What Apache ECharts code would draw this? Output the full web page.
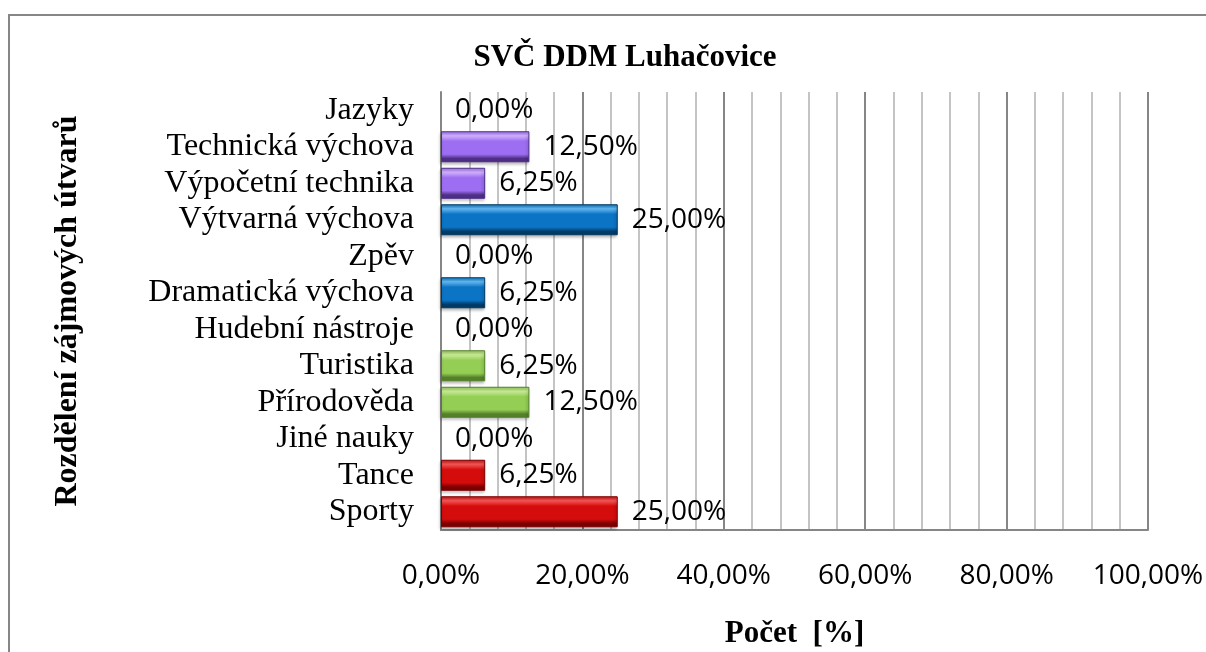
<!DOCTYPE html>
<html>
<head>
<meta charset="utf-8">
<script src="https://cdn.jsdelivr.net/npm/echarts@6/dist/echarts.min.js"></script>
<style>
    html, body { margin: 0; padding: 0; background: #fff; }
    #chart { width: 1206px; height: 652px; }
</style>
</head>
<body>
<div id="chart"></div>
<script>
// kategorie odspodu nahoru
var categories = ['Sporty', 'Tance', 'Jiné nauky', 'Přírodověda', 'Turistika', 'Hudební nástroje',
    'Dramatická výchova', 'Zpěv', 'Výtvarná výchova', 'Výpočetní technika', 'Technická výchova', 'Jazyky'];
var values = [25, 6.25, 0, 12.5, 6.25, 0, 6.25, 0, 25, 6.25, 12.5, 0];
var xTicks = [0, 20, 40, 60, 80, 100];

// barvy skupin (po trojicích): cervena, zelena, modra, fialova
var palettes = [
    { dark: '#7a0000', mid: '#d40c0c', light: '#f65858' },
    { dark: '#55802a', mid: '#94ce54', light: '#cbee9a' },
    { dark: '#003a66', mid: '#0c74c4', light: '#64baf4' },
    { dark: '#4e2e86', mid: '#9e6ef2', light: '#d4b4ff' }
];

function bevel(p) {
    return {
        type: 'linear', x: 0, y: 0, x2: 0, y2: 1,
        colorStops: [
            { offset: 0, color: p.mid },
            { offset: 0.14, color: p.light },
            { offset: 0.32, color: p.mid },
            { offset: 0.74, color: p.mid },
            { offset: 0.88, color: p.dark },
            { offset: 1, color: p.dark }
        ]
    };
}

function fmt(v) {
    return v.toFixed(2).replace('.', ',') + '%';
}

var barData = [];
for (var i = 0; i < values.length; i++) {
    var p = palettes[Math.floor(i / 3)];
    barData.push({
        value: values[i],
        itemStyle: {
            color: bevel(p),
            borderColor: p.dark,
            borderWidth: values[i] > 0 ? 1 : 0,
            opacity: values[i] > 0 ? 1 : 0
        }
    });
}

var myChart = echarts.init(document.getElementById('chart'));

var option = {
    animation: false,
    title: {
        text: 'SVČ DDM Luhačovice',
        left: 620,
        textAlign: 'center',
        top: 37,
        textStyle: {
            fontFamily: 'Liberation Serif',
            fontWeight: 'bold',
            fontSize: 31,
            color: '#000'
        }
    },
    graphic: [{
        type: 'rect',
        shape: { x: 9, y: 15, width: 1400, height: 900 },
        style: { fill: 'none', stroke: '#868686', lineWidth: 2 },
        silent: true
    }],
    grid: {
        left: 441,
        right: 58,
        top: 92,
        bottom: 122,
        outerBoundsMode: 'none'
    },
    xAxis: {
        type: 'value',
        min: 0,
        max: 100,
        interval: 20,
        name: 'Počet  [%]',
        nameLocation: 'middle',
        nameGap: 88,
        nameTextStyle: {
            fontFamily: 'Liberation Serif',
            fontWeight: 'bold',
            fontSize: 31,
            color: '#000'
        },
        axisLine: { show: true, lineStyle: { color: '#868686', width: 2 } },
        axisTick: { show: false },
        axisLabel: {
            margin: 32,
            fontFamily: 'Open Sans',
            fontSize: 28,
            color: '#000',
            formatter: function (v) { return xTicks.indexOf(v) >= 0 ? fmt(v) : ''; }
        },
        splitLine: { show: true, lineStyle: { color: '#868686', width: 2 } },
        minorTick: { show: false, splitNumber: 5 },
        minorSplitLine: { show: true, lineStyle: { color: '#c4c4c4', width: 2 } }
    },
    yAxis: {
        type: 'category',
        data: categories,
        name: 'Rozdělení zájmových útvarů',
        nameLocation: 'middle',
        nameGap: 357,
        nameRotate: 90,
        nameTextStyle: {
            fontFamily: 'Liberation Serif',
            fontWeight: 'bold',
            fontSize: 32,
            color: '#000'
        },
        axisLine: { show: true, lineStyle: { color: '#868686', width: 2 } },
        axisTick: { show: false },
        axisLabel: {
            interval: 0,
            margin: 27,
            fontFamily: 'Liberation Serif',
            fontSize: 32,
            color: '#000'
        }
    },
    series: [{
        type: 'bar',
        data: barData,
        barWidth: 31,
        itemStyle: {
            shadowColor: 'rgba(0,0,0,0.3)',
            shadowBlur: 3,
            shadowOffsetX: -1,
            shadowOffsetY: 2
        },
        label: {
            show: true,
            position: 'right',
            distance: 14,
            opacity: 1,
            fontFamily: 'Open Sans',
            fontSize: 28,
            color: '#000',
            formatter: function (p) { return fmt(p.value); }
        }
    }]
};

myChart.setOption(option);
</script>
</body>
</html>
